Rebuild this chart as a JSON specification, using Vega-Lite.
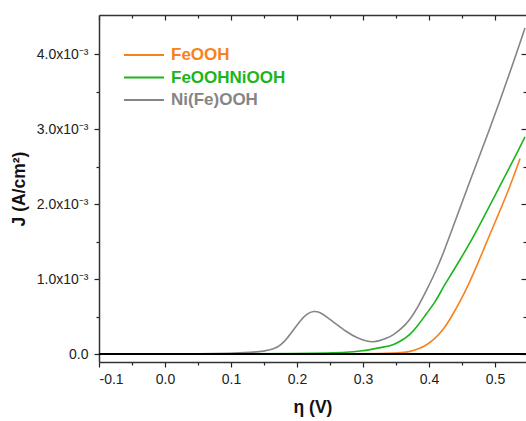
{
  "$schema": "https://vega.github.io/schema/vega-lite/v6.json",
  "width": 427,
  "height": 347,
  "autosize": "none",
  "padding": {"left": 99, "top": 15, "right": 0, "bottom": 59},
  "config": {
    "view": {"stroke": null},
    "font": "Liberation Sans",
    "axis": {"grid": false, "domainColor": "#333333", "domainWidth": 1.5, "tickColor": "#222222", "tickWidth": 1.2, "labelColor": "#222222", "labelFont": "Liberation Sans", "labelFontSize": 14, "titleFont": "Liberation Sans", "titleFontSize": 17.5, "titleFontWeight": "bold", "titleColor": "#111111", "labelOverlap": false}
  },
  "data": {"values": [
    {"s": "Ni(Fe)OOH", "x": -0.1, "J": 0},
    {"s": "Ni(Fe)OOH", "x": 0.0, "J": 0.000001},
    {"s": "Ni(Fe)OOH", "x": 0.05, "J": 0.000004},
    {"s": "Ni(Fe)OOH", "x": 0.1, "J": 0.000012},
    {"s": "Ni(Fe)OOH", "x": 0.13, "J": 0.000025},
    {"s": "Ni(Fe)OOH", "x": 0.15, "J": 0.00004},
    {"s": "Ni(Fe)OOH", "x": 0.165, "J": 0.00007},
    {"s": "Ni(Fe)OOH", "x": 0.175, "J": 0.00012},
    {"s": "Ni(Fe)OOH", "x": 0.185, "J": 0.00021},
    {"s": "Ni(Fe)OOH", "x": 0.195, "J": 0.00033},
    {"s": "Ni(Fe)OOH", "x": 0.205, "J": 0.00045},
    {"s": "Ni(Fe)OOH", "x": 0.215, "J": 0.00054},
    {"s": "Ni(Fe)OOH", "x": 0.225, "J": 0.00058},
    {"s": "Ni(Fe)OOH", "x": 0.235, "J": 0.00056},
    {"s": "Ni(Fe)OOH", "x": 0.245, "J": 0.0005},
    {"s": "Ni(Fe)OOH", "x": 0.26, "J": 0.0004},
    {"s": "Ni(Fe)OOH", "x": 0.275, "J": 0.0003},
    {"s": "Ni(Fe)OOH", "x": 0.29, "J": 0.00022},
    {"s": "Ni(Fe)OOH", "x": 0.305, "J": 0.000175},
    {"s": "Ni(Fe)OOH", "x": 0.315, "J": 0.000163},
    {"s": "Ni(Fe)OOH", "x": 0.325, "J": 0.00018},
    {"s": "Ni(Fe)OOH", "x": 0.335, "J": 0.00021},
    {"s": "Ni(Fe)OOH", "x": 0.346, "J": 0.000257},
    {"s": "Ni(Fe)OOH", "x": 0.358, "J": 0.00034},
    {"s": "Ni(Fe)OOH", "x": 0.371, "J": 0.000457},
    {"s": "Ni(Fe)OOH", "x": 0.384, "J": 0.00064},
    {"s": "Ni(Fe)OOH", "x": 0.3965, "J": 0.000857},
    {"s": "Ni(Fe)OOH", "x": 0.41, "J": 0.0011},
    {"s": "Ni(Fe)OOH", "x": 0.4217, "J": 0.001347},
    {"s": "Ni(Fe)OOH", "x": 0.434, "J": 0.00164},
    {"s": "Ni(Fe)OOH", "x": 0.447, "J": 0.00195},
    {"s": "Ni(Fe)OOH", "x": 0.46, "J": 0.00226},
    {"s": "Ni(Fe)OOH", "x": 0.475, "J": 0.00261},
    {"s": "Ni(Fe)OOH", "x": 0.49, "J": 0.00296},
    {"s": "Ni(Fe)OOH", "x": 0.5076, "J": 0.00338},
    {"s": "Ni(Fe)OOH", "x": 0.525, "J": 0.00382},
    {"s": "Ni(Fe)OOH", "x": 0.5455, "J": 0.00435},
    {"s": "FeOOHNiOOH", "x": -0.1, "J": 0},
    {"s": "FeOOHNiOOH", "x": 0.1, "J": 0.000002},
    {"s": "FeOOHNiOOH", "x": 0.2, "J": 0.000008},
    {"s": "FeOOHNiOOH", "x": 0.25, "J": 0.000018},
    {"s": "FeOOHNiOOH", "x": 0.275, "J": 0.000026},
    {"s": "FeOOHNiOOH", "x": 0.2955, "J": 0.00004},
    {"s": "FeOOHNiOOH", "x": 0.3157, "J": 0.00007},
    {"s": "FeOOHNiOOH", "x": 0.33, "J": 0.000095},
    {"s": "FeOOHNiOOH", "x": 0.346, "J": 0.000124},
    {"s": "FeOOHNiOOH", "x": 0.358, "J": 0.00018},
    {"s": "FeOOHNiOOH", "x": 0.371, "J": 0.000257},
    {"s": "FeOOHNiOOH", "x": 0.384, "J": 0.00039},
    {"s": "FeOOHNiOOH", "x": 0.3965, "J": 0.000547},
    {"s": "FeOOHNiOOH", "x": 0.41, "J": 0.0007},
    {"s": "FeOOHNiOOH", "x": 0.4217, "J": 0.0009},
    {"s": "FeOOHNiOOH", "x": 0.434, "J": 0.00107},
    {"s": "FeOOHNiOOH", "x": 0.447, "J": 0.00126},
    {"s": "FeOOHNiOOH", "x": 0.465, "J": 0.00153},
    {"s": "FeOOHNiOOH", "x": 0.48, "J": 0.00178},
    {"s": "FeOOHNiOOH", "x": 0.495, "J": 0.00203},
    {"s": "FeOOHNiOOH", "x": 0.51, "J": 0.00229},
    {"s": "FeOOHNiOOH", "x": 0.525, "J": 0.00254},
    {"s": "FeOOHNiOOH", "x": 0.5455, "J": 0.0029},
    {"s": "FeOOH", "x": -0.1, "J": 0},
    {"s": "FeOOH", "x": 0.2, "J": 0.000002},
    {"s": "FeOOH", "x": 0.3, "J": 0.000006},
    {"s": "FeOOH", "x": 0.336, "J": 0.000011},
    {"s": "FeOOH", "x": 0.36, "J": 0.000022},
    {"s": "FeOOH", "x": 0.371, "J": 0.000035},
    {"s": "FeOOH", "x": 0.384, "J": 0.00007},
    {"s": "FeOOH", "x": 0.3965, "J": 0.000124},
    {"s": "FeOOH", "x": 0.408, "J": 0.0002},
    {"s": "FeOOH", "x": 0.4217, "J": 0.000324},
    {"s": "FeOOH", "x": 0.434, "J": 0.0005},
    {"s": "FeOOH", "x": 0.447, "J": 0.0007},
    {"s": "FeOOH", "x": 0.46, "J": 0.00093},
    {"s": "FeOOH", "x": 0.47, "J": 0.00113},
    {"s": "FeOOH", "x": 0.482, "J": 0.00138},
    {"s": "FeOOH", "x": 0.49, "J": 0.00155},
    {"s": "FeOOH", "x": 0.502, "J": 0.0018},
    {"s": "FeOOH", "x": 0.515, "J": 0.00207},
    {"s": "FeOOH", "x": 0.527, "J": 0.00234},
    {"s": "FeOOH", "x": 0.538, "J": 0.00261}
  ]},
  "resolve": {"axis": {"x": "independent", "y": "independent"}},
  "layer": [
    {
      "mark": {"type": "line", "strokeWidth": 1.6, "interpolate": "basis", "clip": true},
      "encoding": {
        "x": {"field": "x", "type": "quantitative", "scale": {"domain": [-0.1, 0.547], "nice": false, "zero": false},
          "axis": {"orient": "bottom", "title": "η (V)", "titlePadding": 12,
            "values": [-0.1, -0.05, 0, 0.05, 0.1, 0.15, 0.2, 0.25, 0.3, 0.35, 0.4, 0.45, 0.5],
            "labelExpr": "round(datum.value*100) % 10 == 0 ? replace(format(datum.value, '.1f'), '−', '-') : ''",
            "tickSize": {"condition": {"test": "round(datum.value*100) % 10 != 0", "value": 3}, "value": 5},
            "labelPadding": 5}},
        "y": {"field": "J", "type": "quantitative", "scale": {"domain": [-0.000103, 0.004524], "nice": false, "zero": false},
          "axis": {"orient": "left", "title": "J (A/cm²)", "titlePadding": 8,
            "values": [0, 0.0005, 0.001, 0.0015, 0.002, 0.0025, 0.003, 0.0035, 0.004],
            "labelExpr": "round(datum.value*10000) % 10 != 0 ? '' : (datum.value == 0 ? '0.0' : format(datum.value*1000, '.1f') + 'x10⁻³')",
            "tickSize": {"condition": {"test": "round(datum.value*10000) % 10 != 0", "value": 3}, "value": 5},
            "labelPadding": 6}},
        "color": {"field": "s", "type": "nominal",
          "scale": {"domain": ["FeOOH", "FeOOHNiOOH", "Ni(Fe)OOH"], "range": ["#F7821B", "#1CB51C", "#858585"]},
          "legend": {"title": null, "orient": "none", "legendX": 24, "legendY": 29,
            "symbolType": "stroke", "symbolSize": 1600, "symbolStrokeWidth": 2,
            "labelFontSize": 17, "labelFontWeight": "bold", "labelFont": "Liberation Sans", "labelOffset": 6,
            "clipHeight": 22, "rowPadding": 0.5,
            "encode": {"labels": {"update": {"fill": {"scale": "color", "field": "value"}}}}}}
      }
    },
    {
      "mark": {"type": "line", "opacity": 0},
      "encoding": {
        "x": {"field": "x", "type": "quantitative",
          "axis": {"orient": "top", "title": null, "labels": false,
            "values": [-0.1, -0.05, 0, 0.05, 0.1, 0.15, 0.2, 0.25, 0.3, 0.35, 0.4, 0.45, 0.5],
            "tickSize": {"condition": {"test": "round(datum.value*100) % 10 != 0", "value": -3}, "value": -5}}},
        "y": {"field": "J", "type": "quantitative",
          "axis": {"orient": "right", "title": null, "labels": false, "domain": false,
            "values": [0, 0.0005, 0.001, 0.0015, 0.002, 0.0025, 0.003, 0.0035, 0.004],
            "tickSize": {"condition": {"test": "round(datum.value*10000) % 10 != 0", "value": -3}, "value": -5}}}
      }
    },
    {
      "mark": {"type": "rule", "color": "#000000", "strokeWidth": 1.6},
      "encoding": {"y": {"datum": 0, "axis": null}}
    }
  ]
}
